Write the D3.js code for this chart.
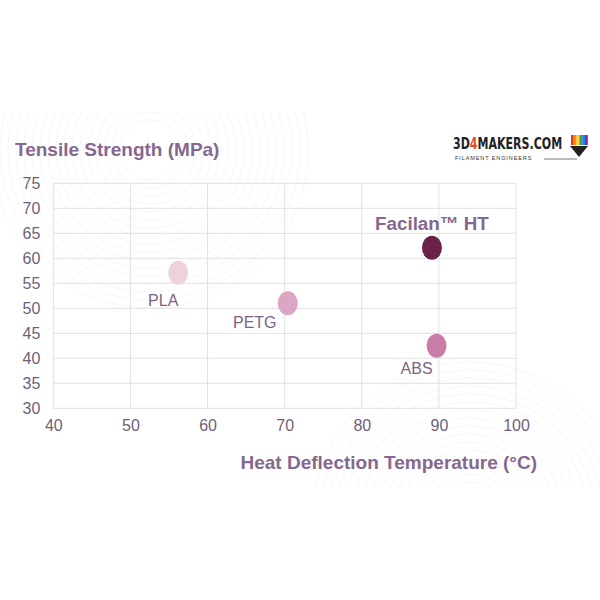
<!DOCTYPE html>
<html><head><meta charset="utf-8">
<script src="https://cdn.jsdelivr.net/npm/d3@7"></script>
<style>body{margin:0;background:#fff}svg{display:block}</style>
</head><body>
<svg id="c" width="600" height="600"></svg>
<script>
const materials = ["PLA", "PETG", "ABS", "Facilan™ HT"];
const hdt = [56.2, 70.4, 89.7, 89.1];
const tensile = [57.1, 51, 42.5, 62.1];
const colors = ["#edd2de", "#dba6c3", "#c97ca7", "#6b2248"];
const xTicks = [40, 50, 60, 70, 80, 90, 100];
const yTicks = [30, 35, 40, 45, 50, 55, 60, 65, 70, 75];

const svg = d3.select("#c");
const x = d3.scaleLinear().domain([40, 100]).range([53.3, 516]);
const y = d3.scaleLinear().domain([30, 75]).range([408.3, 183.3]);

// faint background swirls
const bg = svg.append("g").attr("fill", "none").attr("stroke", "#f5f5f5").attr("stroke-width", 0.8);
for (let r = 30; r <= 160; r += 8) {
  bg.append("circle").attr("cx", 150).attr("cy", 150).attr("r", r);
  bg.append("circle").attr("cx", 470).attr("cy", 520).attr("r", r);
}
svg.append("rect").attr("x",0).attr("y",0).attr("width",600).attr("height",112).attr("fill","#fff");
svg.append("rect").attr("x",0).attr("y",488).attr("width",600).attr("height",112).attr("fill","#fff");

// grid
const grid = svg.append("g").attr("stroke", "#e2e2e4").attr("stroke-width", 1);
grid.selectAll(".gx").data(xTicks).join("line")
  .attr("x1", d => x(d)).attr("x2", d => x(d)).attr("y1", y(75)).attr("y2", y(30));
grid.selectAll(".gy").data(yTicks).join("line")
  .attr("x1", x(40)).attr("x2", x(100)).attr("y1", d => y(d)).attr("y2", d => y(d));

const fontFam = "'Liberation Sans', Arial, sans-serif";
const xAxis = svg.append("g").attr("transform", `translate(0,${y(30)})`)
  .call(d3.axisBottom(x).tickValues(xTicks).tickSize(0).tickPadding(11));
const yAxis = svg.append("g").attr("transform", `translate(${x(40)},0)`)
  .call(d3.axisLeft(y).tickValues(yTicks).tickSize(0).tickPadding(13));
[xAxis, yAxis].forEach(a => {
  a.select(".domain").remove();
  a.selectAll("text").attr("font-family", fontFam).attr("font-size", 16).attr("fill", "#6e5f7c");
});

// points
svg.selectAll(".pt").data(materials).join("ellipse")
  .attr("cx", (d, i) => x(hdt[i])).attr("cy", (d, i) => y(tensile[i]))
  .attr("rx", 10).attr("ry", 12).attr("fill", (d, i) => colors[i]);

// point labels
const labelOff = [[-15, 28], [-33, 20], [-20, 23], [0, -23]];
svg.selectAll(".lb").data(materials).join("text")
  .attr("x", (d, i) => x(hdt[i]) + labelOff[i][0])
  .attr("y", (d, i) => y(tensile[i]) + labelOff[i][1] + 5)
  .attr("text-anchor", "middle")
  .attr("font-family", fontFam)
  .attr("font-size", (d, i) => i === 3 ? 18.8 : 16)
  .attr("font-weight", (d, i) => i === 3 ? "bold" : "normal")
  .attr("fill", (d, i) => i === 3 ? "#85688f" : "#7a6585")
  .text(d => d);

// axis titles
svg.append("text").attr("x", 15).attr("y", 156).attr("font-family", fontFam)
  .attr("font-size", 19).attr("font-weight", "bold").attr("fill", "#85688f")
  .text("Tensile Strength (MPa)");
svg.append("text").attr("x", 537).attr("y", 469).attr("text-anchor", "end").attr("font-family", fontFam)
  .attr("font-size", 19).attr("font-weight", "bold").attr("fill", "#85688f")
  .text("Heat Deflection Temperature (°C)");

// logo
const logo = svg.append("g");
const lt = logo.append("text").attr("transform", "translate(453,149) scale(0.69,1)")
  .attr("font-family", "'DejaVu Sans', sans-serif")
  .attr("font-weight", "bold").attr("font-size", 16).attr("fill", "#222");
lt.append("tspan").text("3D");
lt.append("tspan").attr("fill", "#e04a1e").text("4");
lt.append("tspan").text("MAKERS.COM");
logo.append("text").attr("x", 455).attr("y", 160).attr("font-family", fontFam).attr("font-size", 5.5)
  .attr("fill", "#333").attr("letter-spacing", 0.9).text("FILAMENT ENGINEERS");
logo.append("line").attr("x1", 544).attr("x2", 577).attr("y1", 159).attr("y2", 159).attr("stroke", "#555").attr("stroke-width", 0.8);
const rb = ["#e53935", "#fb8c00", "#fdd835", "#43a047", "#1e88e5", "#8e24aa"];
rb.forEach((c, i) => logo.append("rect").attr("x", 571 + i * 2.8).attr("y", 135).attr("width", 2.8).attr("height", 10).attr("fill", c));
logo.append("path").attr("d", "M570,146 L588,146 L579,157 Z").attr("fill", "#222");
</script>
</body></html>
